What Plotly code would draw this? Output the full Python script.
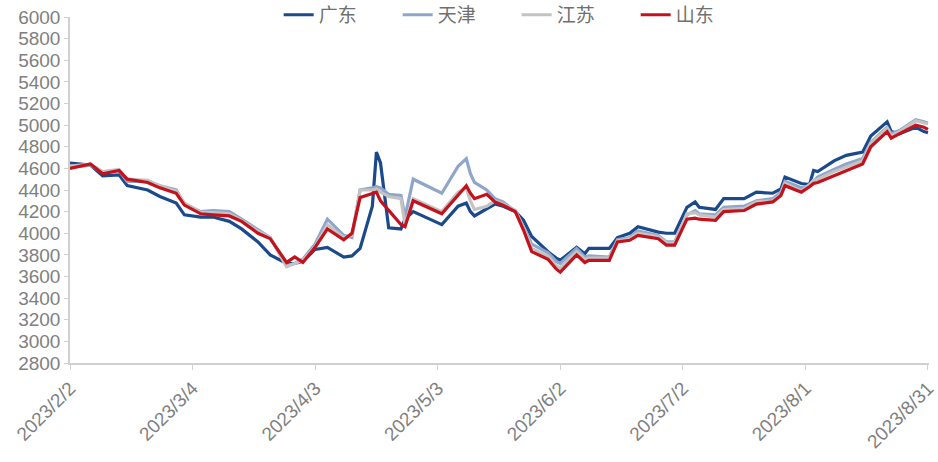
import plotly.graph_objects as go

dates = ["2023-02-02","2023-02-07","2023-02-10","2023-02-14","2023-02-16","2023-02-21","2023-02-24","2023-02-28",
         "2023-03-02","2023-03-06","2023-03-09","2023-03-13","2023-03-16","2023-03-20","2023-03-23","2023-03-27",
         "2023-03-29","2023-03-31","2023-04-03","2023-04-06","2023-04-10","2023-04-12","2023-04-14","2023-04-17",
         "2023-04-18","2023-04-19","2023-04-21","2023-04-24","2023-04-25","2023-04-27","2023-05-04","2023-05-08",
         "2023-05-10","2023-05-11","2023-05-12","2023-05-15","2023-05-17","2023-05-19","2023-05-22","2023-05-24",
         "2023-05-26","2023-05-30","2023-06-01","2023-06-02","2023-06-06","2023-06-08","2023-06-09","2023-06-14",
         "2023-06-16","2023-06-19","2023-06-21","2023-06-26","2023-06-28","2023-06-30","2023-07-03","2023-07-05",
         "2023-07-06","2023-07-10","2023-07-12","2023-07-17","2023-07-20","2023-07-24","2023-07-26","2023-07-27",
         "2023-07-31","2023-08-02","2023-08-03","2023-08-04","2023-08-08","2023-08-11","2023-08-15","2023-08-17",
         "2023-08-21","2023-08-22","2023-08-24","2023-08-28","2023-08-30","2023-08-31"]

guangdong = [4650,4630,4530,4540,4440,4400,4340,4280,
             4170,4150,4150,4110,4040,3920,3800,3720,
             3720,3740,3850,3870,3780,3790,3860,4250,
             4750,4650,4050,4040,4130,4200,4080,4250,
             4280,4200,4160,4230,4270,4250,4200,4120,
             3970,3830,3770,3750,3870,3810,3860,3860,
             3960,4000,4060,4010,4000,4000,4240,4290,
             4240,4220,4320,4320,4380,4370,4410,4520,
             4460,4450,4580,4570,4670,4720,4750,4900,
             5030,4940,4920,4980,4940,4930]

tianjin = [4610,4630,4560,4580,4480,4480,4440,4400,
           4270,4200,4210,4200,4130,4030,3960,3700,
           3720,3760,3900,4130,3980,3960,4400,4420,
           4430,4420,4360,4350,4150,4500,4370,4620,
           4690,4550,4470,4400,4320,4290,4200,4060,
           3900,3820,3740,3720,3860,3780,3790,3780,
           3940,3960,4020,3980,3920,3920,4170,4210,
           4180,4170,4240,4250,4300,4320,4380,4480,
           4420,4440,4480,4520,4590,4640,4690,4840,
           4980,4920,4950,5050,5030,5020]

jiangsu = [4620,4640,4570,4590,4500,4490,4440,4390,
           4280,4190,4190,4180,4120,4020,3960,3690,
           3720,3750,3880,4080,3960,3980,4400,4400,
           4410,4380,4340,4320,4080,4320,4200,4380,
           4420,4300,4220,4250,4300,4270,4210,4050,
           3860,3790,3700,3680,3830,3760,3770,3770,
           3930,3950,4000,3970,3910,3910,4180,4190,
           4170,4150,4220,4230,4290,4300,4360,4460,
           4390,4450,4490,4500,4570,4610,4670,4830,
           4970,4900,4940,5040,5020,5010]

shandong = [4600,4640,4550,4580,4500,4470,4420,4370,
            4260,4180,4170,4160,4110,4000,3950,3730,
            3780,3730,3870,4040,3940,4000,4330,4370,
            4380,4300,4210,4080,4060,4300,4180,4350,
            4440,4370,4320,4360,4290,4260,4200,4030,
            3830,3760,3670,3640,3800,3730,3750,3750,
            3920,3935,3980,3950,3890,3890,4130,4140,
            4130,4120,4200,4210,4270,4290,4350,4440,
            4380,4430,4460,4470,4530,4580,4640,4800,
            4940,4880,4920,5000,4980,4960]

tick_dates = ["2023-02-02","2023-03-04","2023-04-03","2023-05-03","2023-06-02","2023-07-02","2023-08-01","2023-08-31"]
tick_labels = ["2023/2/2","2023/3/4","2023/4/3","2023/5/3","2023/6/2","2023/7/2","2023/8/1","2023/8/31"]
y_ticks = list(range(2800, 6001, 200))

series = [("广东", guangdong, "#1b4a8c"),
          ("天津", tianjin, "#8ea6c9"),
          ("江苏", jiangsu, "#c3c3c3"),
          ("山东", shandong, "#c3121c")]

fig = go.Figure()
for name, vals, color in series:
    fig.add_trace(go.Scatter(x=dates, y=vals, name=name, mode="lines",
                             line=dict(color=color, width=3.2)))

axis_color = "#d0d0d0"
fig.update_layout(
    width=938, height=462,
    margin=dict(l=70, r=9, t=17, b=99, autoexpand=False),
    plot_bgcolor="white", paper_bgcolor="white",
    font=dict(family="Liberation Sans, Arial, sans-serif", color="#808080"),
    legend=dict(orientation="h", x=0.52, xanchor="center", y=1.006, yanchor="middle",
                font=dict(family="Noto Sans CJK SC", size=19, color="#707070"),
                entrywidth=74, bgcolor="rgba(0,0,0,0)"),
    xaxis=dict(type="date", range=["2023-02-02", "2023-08-31 06:00"],
               tickvals=tick_dates, ticktext=tick_labels, tickangle=-45,
               ticklabeloverflow="allow",
               tickfont=dict(size=19, color="#808080"),
               showgrid=False, zeroline=False, showline=True, linecolor=axis_color, linewidth=1.5,
               ticks="outside", ticklen=5, tickcolor=axis_color),
    yaxis=dict(range=[2800, 6000], tickvals=y_ticks,
               ticklabeloverflow="allow",
               tickfont=dict(size=19, color="#808080"),
               showgrid=False, zeroline=False, showline=True, linecolor=axis_color, linewidth=1.5,
               ticks="outside", ticklen=4, tickcolor=axis_color),
)

fig.write_html("out.html", config={"displayModeBar": False},
               post_script="document.body.style.margin='0';document.body.style.overflow='hidden';")
